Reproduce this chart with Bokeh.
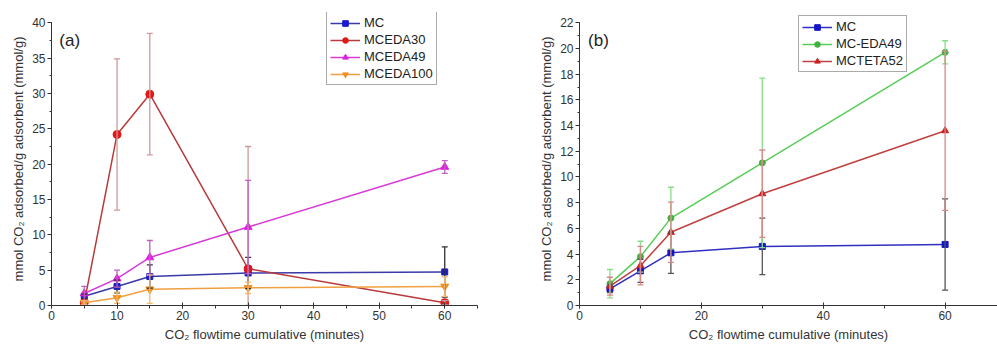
import numpy as np
from bokeh.plotting import figure
from bokeh.layouts import row
from bokeh.models import (Range1d, SingleIntervalTicker, Whisker, TeeHead,
                          ColumnDataSource, Label, Legend)
from bokeh.embed import file_html
from bokeh.resources import INLINE

# ---------------- data ----------------
time_min = [5, 10, 15, 30, 60]

# panel (a)
a_mc = [1.3, 2.7, 4.1, 4.6, 4.75]
a_mc_err = [0.3, 0.9, 1.65, 2.2, 3.55]
a_eda30 = [0.4, 24.2, 29.9, 5.2, 0.4]
a_eda30_err = [0.3, 10.7, 8.6, 17.3, 0.3]
a_eda49 = [1.7, 3.8, 6.8, 11.1, 19.6]
a_eda49_err = [1.0, 1.2, 2.4, 6.6, 0.9]
a_eda100 = [0.4, 1.1, 2.3, 2.5, 2.7]
a_eda100_err = [0.3, 0.8, 2.0, 0.8, 1.4]

# panel (b)
b_mc = [1.3, 2.7, 4.1, 4.6, 4.75]
b_mc_err = [0.3, 0.9, 1.6, 2.2, 3.55]
b_eda49 = [1.7, 3.8, 6.8, 11.1, 19.7]
b_eda49_err = [1.1, 1.2, 2.4, 6.6, 0.9]
b_teta52 = [1.5, 3.1, 5.7, 8.7, 13.6]
b_teta52_err = [0.7, 1.5, 2.35, 3.4, 6.2]

x_label = "CO\u2082 flowtime cumulative (minutes)"
y_label = "mmol CO\u2082 adsorbed/g adsorbent (mmol/g)"

FONT = "Liberation Sans"


def style(p, xint, yint, ybounds):
    p.xaxis.ticker = SingleIntervalTicker(interval=xint, num_minor_ticks=2)
    p.yaxis.ticker = SingleIntervalTicker(interval=yint, num_minor_ticks=2)
    p.yaxis.bounds = ybounds
    p.xgrid.visible = False
    p.ygrid.visible = False
    p.outline_line_color = None
    for ax in (p.xaxis[0], p.yaxis[0]):
        ax.axis_line_color = "#333333"
        ax.major_tick_line_color = "#333333"
        ax.minor_tick_line_color = "#333333"
        ax.major_label_text_font = FONT
        ax.major_label_text_font_size = "12px"
        ax.major_label_text_color = "#333333"
        ax.axis_label_text_font = FONT
        ax.axis_label_text_font_size = "13px"
        ax.axis_label_text_font_style = "normal"
        ax.axis_label_text_color = "#333333"
        ax.major_label_standoff = 2
    p.xaxis.axis_label_standoff = 4
    p.yaxis.axis_label_standoff = 3
    p.xaxis.major_tick_in = 3
    p.xaxis.major_tick_out = 3
    p.xaxis.minor_tick_in = 0
    p.xaxis.minor_tick_out = 3
    p.yaxis.major_tick_in = 0
    p.yaxis.major_tick_out = 4
    p.yaxis.minor_tick_in = 0
    p.yaxis.minor_tick_out = 2
    p.xaxis.axis_label = x_label
    p.yaxis.axis_label = y_label


def series(p, x, y, err, label, line_c, mark_c, err_c, marker, size):
    ys = np.array(y, dtype=float)
    es = np.array(err, dtype=float)
    src = ColumnDataSource(dict(x=x, y=ys,
                                upper=ys + es,
                                lower=np.maximum(ys - es, 0.0)))
    w = Whisker(base="x", upper="upper", lower="lower", source=src,
                line_color=err_c, line_width=1.3, level="glyph",
                upper_head=TeeHead(size=6, line_color=err_c, line_width=1.3),
                lower_head=TeeHead(size=6, line_color=err_c, line_width=1.3))
    p.add_layout(w)
    r1 = p.line("x", "y", source=src, line_color=line_c, line_width=1.5)
    r2 = p.scatter("x", "y", source=src, marker=marker, size=size,
                   fill_color=mark_c, line_color=mark_c)
    return (label, [r1, r2])


def make_legend(p, items, loc):
    lg = Legend(items=items, location=loc, label_text_font=FONT,
                label_text_font_size="13px", label_text_color="#222222",
                glyph_width=30, glyph_height=14, label_height=14,
                spacing=2, padding=3, margin=0, label_standoff=4,
                border_line_color="#555555", border_line_width=1,
                background_fill_alpha=1)
    p.add_layout(lg)


# ---------------- panel (a) ----------------
pa = figure(width=500, height=344, output_backend="svg", toolbar_location=None,
            x_range=Range1d(0, 65), y_range=Range1d(0, 41.46),
            min_border_left=51, min_border_right=23, min_border_top=12,
            min_border_bottom=39)
style(pa, 10, 5, (0, 40))
ia = []
ia.append(series(pa, time_min, a_mc, a_mc_err, "MC", "#3a3aa8", "#1a1ad0", "#333333", "square", 6))
ia.append(series(pa, time_min, a_eda30, a_eda30_err, "MCEDA30", "#b83a3a", "#e01818", "#cc9a9a", "circle", 8))
ia.append(series(pa, time_min, a_eda49, a_eda49_err, "MCEDA49", "#d83ad8", "#e020e0", "#c060c0", "triangle", 8))
ia.append(series(pa, time_min, a_eda100, a_eda100_err, "MCEDA100", "#f0a040", "#f09020", "#f0b870", "inverted_triangle", 8))
make_legend(pa, ia, (275, 220))
pa.add_layout(Label(x=1.2, y=37.5, text="(a)", text_font=FONT,
                    text_font_size="17px", text_color="#222222",
                    text_baseline="middle"))

# ---------------- panel (b) ----------------
pb = figure(width=497, height=344, output_backend="svg", toolbar_location=None,
            x_range=Range1d(0, 68.6), y_range=Range1d(0, 22.80),
            min_border_left=79, min_border_right=0, min_border_top=12,
            min_border_bottom=39)
style(pb, 20, 2, (0, 22))
ib = []
ib.append(series(pb, time_min, b_mc, b_mc_err, "MC", "#3030c0", "#1515c8", "#555555", "square", 6))
ib.append(series(pb, time_min, b_eda49, b_eda49_err, "MC-EDA49", "#55cc55", "#40b040", "#88dd88", "circle", 6))
ib.append(series(pb, time_min, b_teta52, b_teta52_err, "MCTETA52", "#c04040", "#cc2020", "#d88888", "triangle", 7))
make_legend(pb, ib, (219, 233))
pb.add_layout(Label(x=1.4, y=20.6, text="(b)", text_font=FONT,
                    text_font_size="17px", text_color="#222222",
                    text_baseline="middle"))

layout = row(pa, pb)
open("out.html", "w").write(file_html(layout, INLINE))
